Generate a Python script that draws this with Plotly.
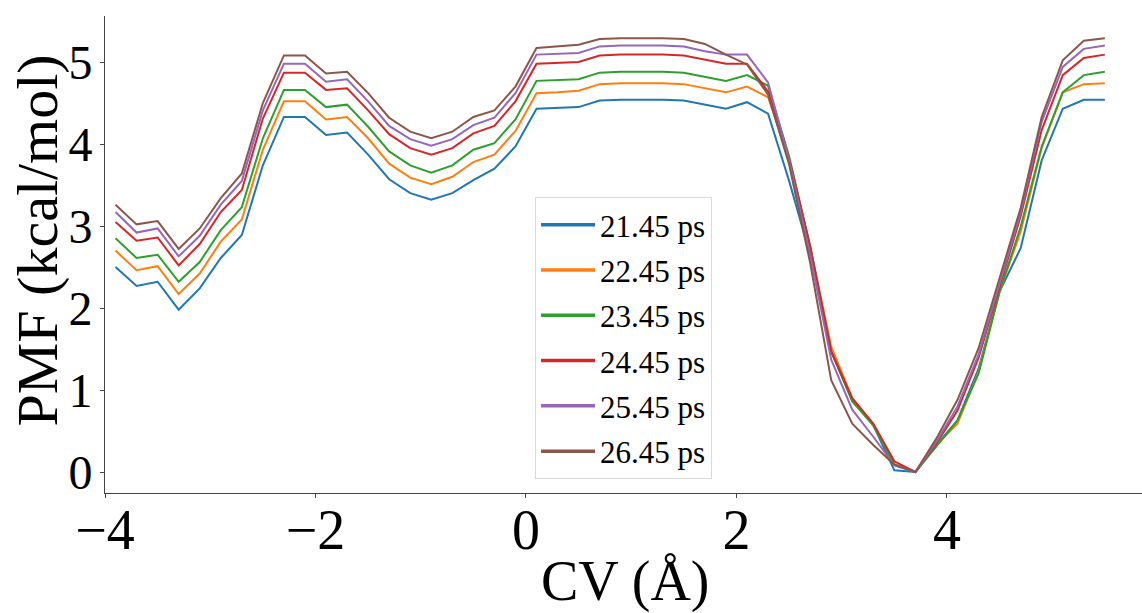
import plotly.graph_objects as go

cv = [-3.9, -3.7, -3.5, -3.3, -3.1, -2.9, -2.7, -2.5, -2.3, -2.1, -1.9, -1.7, -1.5, -1.3,
      -1.1, -0.9, -0.7, -0.5, -0.3, -0.1, 0.1, 0.3, 0.5, 0.7, 0.9, 1.1, 1.3, 1.5, 1.7, 1.9,
      2.1, 2.3, 2.5, 2.7, 2.9, 3.1, 3.3, 3.5, 3.7, 3.9, 4.1, 4.3, 4.5, 4.7, 4.9, 5.1, 5.3, 5.5]

pmf_21_45 = [2.50, 2.27, 2.32, 1.98, 2.24, 2.61, 2.89, 3.74, 4.33, 4.33, 4.11, 4.14, 3.87, 3.57,
             3.40, 3.32, 3.40, 3.56, 3.70, 3.97, 4.43, 4.44, 4.45, 4.53, 4.54, 4.54, 4.54, 4.53,
             4.48, 4.43, 4.51, 4.37, 3.55, 2.65, 1.47, 0.88, 0.57, 0.02, 0.00, 0.33, 0.63, 1.26,
             2.20, 2.73, 3.80, 4.43, 4.54, 4.54]
pmf_22_45 = [2.70, 2.46, 2.51, 2.17, 2.42, 2.81, 3.08, 3.93, 4.52, 4.52, 4.30, 4.33, 4.07, 3.76,
             3.59, 3.51, 3.60, 3.78, 3.87, 4.16, 4.62, 4.63, 4.65, 4.73, 4.74, 4.74, 4.74, 4.73,
             4.68, 4.63, 4.70, 4.57, 3.82, 2.75, 1.53, 0.90, 0.57, 0.10, 0.00, 0.33, 0.59, 1.22,
             2.20, 2.93, 3.95, 4.63, 4.73, 4.74]
pmf_23_45 = [2.85, 2.61, 2.65, 2.32, 2.56, 2.95, 3.23, 4.07, 4.66, 4.66, 4.45, 4.48, 4.21, 3.91,
             3.74, 3.65, 3.74, 3.93, 4.01, 4.30, 4.77, 4.78, 4.79, 4.87, 4.88, 4.88, 4.88, 4.87,
             4.82, 4.77, 4.84, 4.71, 3.85, 2.75, 1.47, 0.86, 0.57, 0.09, 0.00, 0.31, 0.63, 1.20,
             2.20, 2.99, 3.97, 4.63, 4.84, 4.88]
pmf_24_45 = [3.05, 2.82, 2.86, 2.52, 2.78, 3.17, 3.44, 4.31, 4.87, 4.87, 4.66, 4.68, 4.41, 4.12,
             3.95, 3.87, 3.95, 4.13, 4.22, 4.52, 4.98, 4.99, 5.00, 5.08, 5.09, 5.09, 5.09, 5.08,
             5.03, 4.98, 4.98, 4.64, 3.82, 2.75, 1.47, 0.90, 0.59, 0.13, 0.00, 0.35, 0.75, 1.39,
             2.26, 3.12, 4.17, 4.84, 5.05, 5.09]
pmf_25_45 = [3.17, 2.92, 2.97, 2.63, 2.88, 3.26, 3.55, 4.41, 4.98, 4.98, 4.76, 4.79, 4.52, 4.22,
             4.06, 3.98, 4.06, 4.23, 4.32, 4.62, 5.09, 5.10, 5.11, 5.19, 5.20, 5.20, 5.20, 5.19,
             5.13, 5.09, 5.09, 4.75, 3.80, 2.65, 1.37, 0.76, 0.43, 0.08, 0.00, 0.37, 0.80, 1.43,
             2.30, 3.16, 4.27, 4.94, 5.16, 5.20]
pmf_26_45 = [3.26, 3.02, 3.06, 2.72, 2.97, 3.34, 3.64, 4.50, 5.08, 5.08, 4.86, 4.88, 4.62, 4.32,
             4.15, 4.07, 4.15, 4.33, 4.41, 4.70, 5.17, 5.19, 5.21, 5.28, 5.29, 5.29, 5.29, 5.28,
             5.22, 5.09, 4.97, 4.60, 3.75, 2.55, 1.12, 0.59, 0.33, 0.09, 0.00, 0.41, 0.88, 1.51,
             2.36, 3.22, 4.33, 5.02, 5.26, 5.29]

labels = ["21.45 ps", "22.45 ps", "23.45 ps", "24.45 ps", "25.45 ps", "26.45 ps"]
series = [pmf_21_45, pmf_22_45, pmf_23_45, pmf_24_45, pmf_25_45, pmf_26_45]
colors = ["#1f77b4", "#ff7f0e", "#2ca02c", "#d62728", "#9467bd", "#8c564b"]

x_title = "CV (Å)"
y_title = "PMF (kcal/mol)"

FONT = "Liberation Serif"

fig = go.Figure()
for i, (lab, ys, col) in enumerate(zip(labels, series, colors)):
    fig.add_trace(go.Scatter(x=cv, y=ys, mode="lines", name=lab, showlegend=False,
                             line=dict(color=col, width=2)))
# legend-only entries (thicker line samples, like the reference legend)
for i, (lab, col) in enumerate(zip(labels, colors)):
    fig.add_trace(go.Scatter(x=[None], y=[None], mode="lines", name=lab, legendgroup=f"g{i}",
                             line=dict(color=col, width=3.5), hoverinfo="skip"))

fig.update_layout(
    width=1142, height=613,
    margin=dict(l=105, r=0, t=16, b=120),
    paper_bgcolor="white", plot_bgcolor="white",
    font=dict(family=FONT, color="black"),
    showlegend=True,
    legend=dict(
        x=0.4147, y=0.6205, xanchor="left", yanchor="top",
        font=dict(family=FONT, size=31, color="black"),
        bgcolor="white", bordercolor="#d9d9d9", borderwidth=1,
        traceorder="grouped", tracegroupgap=2, itemwidth=54,
    ),
    annotations=[
        dict(text=x_title, xref="paper", yref="paper", x=0.502, y=0, xanchor="center",
             yanchor="middle", yshift=-88, showarrow=False,
             font=dict(family=FONT, size=56, color="black")),
        dict(text=y_title, xref="paper", yref="paper", x=0, y=0.5, xanchor="center",
             yanchor="middle", xshift=-68, yshift=14, textangle=-90, showarrow=False,
             font=dict(family=FONT, size=58, color="black")),
    ],
)
fig.update_xaxes(
    range=[-4, 5.853], tickvals=[-4, -2, 0, 2, 4], automargin=False,
    showline=True, linecolor="#444", linewidth=1, mirror=False,
    ticks="outside", ticklen=4, tickwidth=1, tickcolor="#444",
    showgrid=False, zeroline=False, ticklabelstandoff=-16,
    tickfont=dict(family=FONT, size=56),
)
fig.update_yaxes(
    range=[-0.256, 5.561], tickvals=[0, 1, 2, 3, 4, 5], automargin=False,
    showline=True, linecolor="#444", linewidth=1, mirror=False,
    ticks="outside", ticklen=4, tickwidth=1, tickcolor="#444",
    showgrid=False, zeroline=False, ticklabelstandoff=-2,
    tickfont=dict(family=FONT, size=48),
)

fig.write_html("out.html")
